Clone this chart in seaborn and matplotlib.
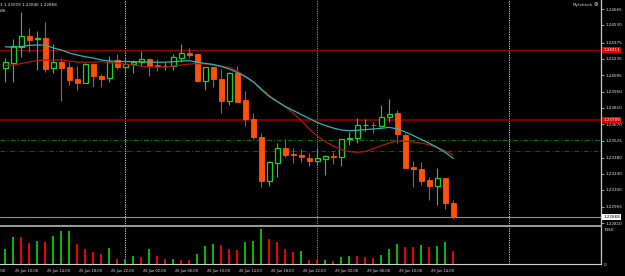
import numpy as np
import pandas as pd
import matplotlib
matplotlib.use("Agg")
import matplotlib.pyplot as plt
import matplotlib.transforms as mtransforms
import seaborn as sns

# ---------------------------------------------------------------------------
# DATA  (H1 candles, 25 Jun 09:00 -> 29 Jun 17:00)
# ---------------------------------------------------------------------------
opens = [1.24154, 1.24202, 1.24341, 1.24434, 1.24405, 1.24419, 1.24154, 1.24208, 1.24163, 1.24058,
         1.24029, 1.24191, 1.24087, 1.24067, 1.24226, 1.24163, 1.24191, 1.24208, 1.24232, 1.24182,
         1.24171, 1.24174, 1.24247, 1.24289, 1.24278, 1.24046, 1.24163, 1.24061, 1.23870, 1.24116,
         1.23879, 1.23714, 1.23561, 1.23179, 1.23335, 1.23463, 1.23408, 1.23402, 1.23379, 1.23350,
         1.23370, 1.23391, 1.23385, 1.23538, 1.23547, 1.23660, 1.23665, 1.23654, 1.23729, 1.23764,
         1.23576, 1.23296, 1.23278, 1.23185, 1.23136, 1.23200, 1.22983]
highs = [1.24241, 1.24405, 1.24639, 1.24501, 1.24477, 1.24558, 1.24365, 1.24243, 1.24211, 1.24174,
         1.24202, 1.24197, 1.24104, 1.24260, 1.24278, 1.24252, 1.24226, 1.24304, 1.24243, 1.24232,
         1.24208, 1.24278, 1.24362, 1.24330, 1.24286, 1.24169, 1.24169, 1.24152, 1.24124, 1.24174,
         1.23957, 1.23769, 1.23590, 1.23350, 1.23504, 1.23541, 1.23460, 1.23454, 1.23417, 1.23463,
         1.23402, 1.23431, 1.23541, 1.23604, 1.23720, 1.23712, 1.23686, 1.23836, 1.23885, 1.23792,
         1.23596, 1.23350, 1.23344, 1.23214, 1.23287, 1.23205, 1.23009]
lows = [1.24038, 1.24038, 1.24254, 1.24298, 1.24139, 1.24124, 1.24117, 1.23873, 1.24009, 1.23966,
        1.24024, 1.23994, 1.23994, 1.24039, 1.24148, 1.24111, 1.24111, 1.24174, 1.24087, 1.24130,
        1.24139, 1.24143, 1.24208, 1.24247, 1.24035, 1.23966, 1.23992, 1.23764, 1.23836, 1.23862,
        1.23654, 1.23537, 1.23127, 1.23136, 1.23214, 1.23387, 1.23335, 1.23341, 1.23309, 1.23315,
        1.23229, 1.23324, 1.23307, 1.23489, 1.23509, 1.23613, 1.23596, 1.23642, 1.23691, 1.23509,
        1.23289, 1.23127, 1.23142, 1.23012, 1.22969, 1.22931, 1.22846]
closes = [1.24206, 1.24347, 1.24434, 1.24399, 1.24414, 1.24145, 1.24206, 1.24156, 1.24052, 1.24029,
          1.24191, 1.24087, 1.24064, 1.24211, 1.24168, 1.24191, 1.24208, 1.24232, 1.24178, 1.24174,
          1.24176, 1.24254, 1.24284, 1.24267, 1.24048, 1.24163, 1.24061, 1.23870, 1.24116, 1.23864,
          1.23714, 1.23556, 1.23179, 1.23344, 1.23460, 1.23402, 1.23400, 1.23385, 1.23353, 1.23374,
          1.23394, 1.23385, 1.23538, 1.23552, 1.23662, 1.23665, 1.23660, 1.23734, 1.23755, 1.23582,
          1.23292, 1.23278, 1.23179, 1.23136, 1.23200, 1.22983, 1.22868]

ma_cyan = [1.24341, 1.24336, 1.24343, 1.24353, 1.24356, 1.24356, 1.24330, 1.24313, 1.24287, 1.24269,
           1.24254, 1.24243, 1.24226, 1.24217, 1.24215, 1.24213, 1.24211, 1.24211, 1.24208, 1.24206,
           1.24208, 1.24211, 1.24217, 1.24220, 1.24206, 1.24197, 1.24187, 1.24171, 1.24148, 1.24117,
           1.24083, 1.24035, 1.23970, 1.23909, 1.23866, 1.23823, 1.23788, 1.23753, 1.23719, 1.23684,
           1.23658, 1.23636, 1.23619, 1.23613, 1.23617, 1.23622, 1.23628, 1.23634, 1.23642, 1.23628,
           1.23602, 1.23571, 1.23537, 1.23504, 1.23467, 1.23424, 1.23374]
ma_red = [1.24176, 1.24182, 1.24195, 1.24208, 1.24221, 1.24226, 1.24226, 1.24226, 1.24217, 1.24208,
          1.24206, 1.24208, 1.24211, 1.24204, 1.24197, 1.24191, 1.24182, 1.24174, 1.24165, 1.24163,
          1.24165, 1.24174, 1.24182, 1.24191, 1.24195, 1.24191, 1.24182, 1.24168, 1.24163, 1.24130,
          1.24083, 1.24039, 1.23979, 1.23918, 1.23866, 1.23818, 1.23766, 1.23701, 1.23628, 1.23567,
          1.23519, 1.23480, 1.23450, 1.23432, 1.23426, 1.23432, 1.23459, 1.23484, 1.23506, 1.23524,
          1.23521, 1.23515, 1.23506, 1.23491, 1.23467, 1.23437, 1.23402]

volumes = [3155, 5678, 5650, 4416, 4837, 4697, 5888, 6940, 7010, 4206,
           3155, 2524, 2243, 3365, 1122, 1180, 1682, 1542, 3155, 1682,
           1122, 1192, 981, 960, 2103, 3856, 4206, 4066, 3225, 3014,
           4627, 4977, 7360, 5258, 4627, 3155, 2664, 2804, 911, 841,
           870, 701, 1472, 1753, 1720, 1472, 1262, 2033, 3155, 4206,
           3645, 3600, 4066, 3645, 3926, 4697, 2734]

time_labels = ["25 Jun 06:00", "25 Jun 10:00", "25 Jun 14:00", "25 Jun 18:00", "25 Jun 22:00",
               "26 Jun 02:00", "26 Jun 06:00", "26 Jun 10:00", "26 Jun 14:00", "26 Jun 18:00",
               "26 Jun 22:00", "29 Jun 02:00", "29 Jun 06:00", "29 Jun 10:00", "29 Jun 14:00"]
time_label_bars = [-3, 1, 5, 9, 13, 17, 21, 25, 29, 33, 37, 41, 45, 49, 53]
day_separator_bars = [15, 39, 63]

price_ticks = [1.24665, 1.24530, 1.24375, 1.24235, 1.24095, 1.23950, 1.23810,
               1.23670, 1.23525, 1.23380, 1.23240, 1.23100, 1.22955, 1.22810]
level_lines = [1.24311, 1.23709]
dashdot_green = 1.23532
dashdot_red = 1.23434
bid = 1.22868

# ---------------------------------------------------------------------------
# PLOT
# ---------------------------------------------------------------------------
sns.set_style("dark", {"axes.facecolor": "black", "figure.facecolor": "black",
                       "axes.grid": False})
plt.rcParams['font.family'] = ['DejaVu Sans']

BULL = '#22d022'
BEAR = '#ff5208'
BEAR_WICK = '#e04810'
TXT = '#e6e6e6'

idx = np.arange(len(opens))
o = np.array(opens); c = np.array(closes)
bull = c >= o

fig = plt.figure(figsize=(6.25, 2.76), dpi=100)
W, H = 625, 276
ax = fig.add_axes([0, 1 - 226 / H, 601 / W, 226 / H])
axv = fig.add_axes([0, 1 - 264.3 / H, 601 / W, 37 / H])

# candles
wick_cols = [BULL if b else BEAR_WICK for b in bull]
ax.vlines(idx, lows, highs, colors=wick_cols, linewidth=0.8, zorder=3)
ax.bar(idx[bull], (c - o)[bull], bottom=o[bull], width=0.62,
       facecolor='black', edgecolor=BULL, linewidth=0.9, zorder=4)
ax.bar(idx[~bull], (o - c)[~bull], bottom=c[~bull], width=0.62,
       facecolor=BEAR, edgecolor=BEAR, linewidth=0.6, zorder=4)

# moving averages
sns.lineplot(x=idx, y=ma_red, ax=ax, color='#b51414', linewidth=0.9, zorder=5)
sns.lineplot(x=idx, y=ma_cyan, ax=ax, color='#2ab6b6', linewidth=0.9, zorder=5)

# horizontal levels
ax.axhline(level_lines[0], color='#9a0000', linewidth=0.8, zorder=2)
ax.axhline(level_lines[1], color='#7a0000', linewidth=1.5, zorder=2)
ax.axhline(dashdot_green, color='#0d6a0d', linewidth=0.9, dashes=(4, 1.6, 1, 1.6), zorder=2)
ax.axhline(dashdot_red, color='#b01010', linewidth=0.7, dashes=(5, 2, 1, 2), zorder=2)
ax.axhline(bid, color='#8e8e9c', linewidth=0.8, zorder=2)

# day separators
for k, b in enumerate(day_separator_bars):
    col = '#8a8a8a' if k == 1 else '#d4d4d4'
    for a in (ax, axv):
        a.axvline(b, color=col, linewidth=0.7, linestyle=(0, (1.2, 1.2)), zorder=1)

xlim = (-0.6625, 74.46)
ax.set_xlim(*xlim)
ax.set_ylim(1.22787, 1.24746)
ax.set_xticks([])
ax.yaxis.tick_right()
ax.set_yticks(price_ticks)
ax.set_yticklabels(['%.5f' % p for p in price_ticks])
ax.tick_params(axis='y', colors=TXT, labelsize=3, length=2, width=0.5, pad=1)
ax.set_xlabel(''); ax.set_ylabel('')

# price boxes on the right scale
tr = mtransforms.blended_transform_factory(ax.transAxes, ax.transData)
for lv in level_lines:
    ax.text(1.004, lv, '%.5f' % lv, transform=tr, fontsize=3, color='white',
            ha='left', va='center', clip_on=False, zorder=10,
            bbox=dict(boxstyle='square,pad=0.25', fc='#e80000', ec='none'))
ax.text(1.004, bid, '%.5f' % bid, transform=tr, fontsize=3, color='black',
        ha='left', va='center', clip_on=False, zorder=10,
        bbox=dict(boxstyle='square,pad=0.25', fc='white', ec='none'))

# volume pane
vol = np.array(volumes)
direction = ['up'] + ['up' if vol[i] > vol[i - 1] else 'down' for i in range(1, len(vol))]
dfv = pd.DataFrame({'bar': idx, 'volume': vol, 'dir': direction})
sns.barplot(data=dfv, x='bar', y='volume', hue='dir',
            palette={'up': '#00b800', 'down': '#ee0000'}, dodge=False,
            width=0.22, errorbar=None, legend=False, linewidth=0,
            saturation=1, ax=axv)
axv.set_xlim(*xlim)
axv.set_ylim(0, 7780)
axv.set_xlabel(''); axv.set_ylabel('')
axv.yaxis.tick_right()
axv.set_yticks([0, 7360])
axv.set_yticklabels(['0', '7360'])
axv.tick_params(axis='y', colors=TXT, labelsize=3, length=0, pad=2)
axv.set_xticks([b for b in time_label_bars if b >= 0])
axv.tick_params(axis='x', direction='out', length=2, width=0.5, color='#d0d0d0',
                labelbottom=False)
trv = mtransforms.blended_transform_factory(axv.transData, axv.transAxes)
for b, lab in zip(time_label_bars, time_labels):
    axv.text(b + 0.15, -0.17, lab, transform=trv, fontsize=2.6, color=TXT,
             ha='left', va='center', clip_on=False)

# frames
for a in (ax, axv):
    a.spines['left'].set_visible(False)
    a.spines['top'].set_visible(False)
    a.spines['right'].set_color('#c8c8c8')
    a.spines['right'].set_linewidth(0.9)
ax.spines['bottom'].set_color('#a8a8a8')
ax.spines['bottom'].set_linewidth(1.3)
axv.spines['bottom'].set_color('#d0d0d0')
axv.spines['bottom'].set_linewidth(0.8)

# header texts
fig.text(0.0, 1 - 4.7 / H, '3 1.23009 1.22846 1.22868', fontsize=3, color=TXT,
         ha='left', va='center')
fig.text(0.0, 1 - 10.7 / H, '.86', fontsize=3, color=TXT, ha='left', va='center')
fig.text(573 / W, 1 - 4.7 / H, 'Myfxbook', fontsize=3, color='#cccccc',
         ha='left', va='center')
fig.text(593 / W, 1 - 4.7 / H, '\u2297', fontsize=4, color='#cccccc',
         ha='left', va='center')

fig.savefig('out.png', dpi=100, facecolor='black')
